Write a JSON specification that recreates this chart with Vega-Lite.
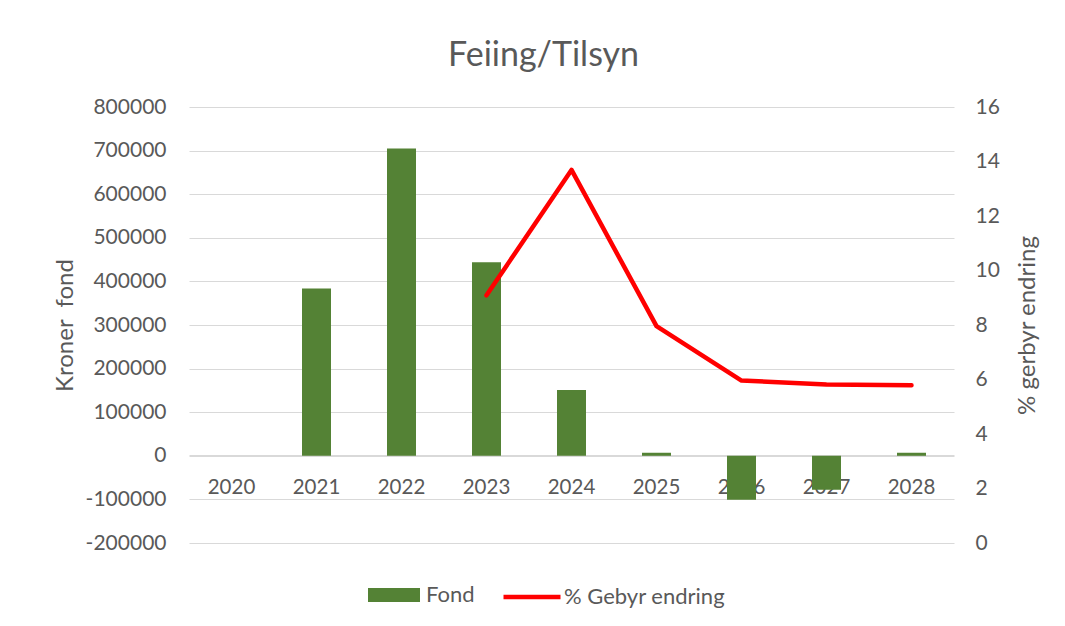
{
  "$schema": "https://vega.github.io/schema/vega-lite/v6.json",
  "autosize": {"type": "none"},
  "width": 765,
  "height": 436,
  "padding": {"left": 189, "top": 107, "right": 111, "bottom": 83},
  "background": "white",
  "title": {"text": "Feiing/Tilsyn", "font": "Lato", "fontSize": 34, "fontWeight": "normal", "color": "#595959", "offset": 23, "anchor": "middle", "dx": -28},
  "config": {
    "view": {"stroke": null},
    "font": "Lato",
    "axis": {"labelFont": "Lato", "titleFont": "Lato", "labelColor": "#595959", "titleColor": "#595959", "labelFontSize": 21, "titleFontSize": 24, "titleFontWeight": "normal"},
    "legend": {"labelFont": "Lato", "labelFontSize": 22, "labelColor": "#595959", "padding": 0, "labelLimit": 400}
  },
  "data": {"values": [
    {"year": "2020", "fond": 0, "pct": null},
    {"year": "2021", "fond": 384000, "pct": null},
    {"year": "2022", "fond": 705000, "pct": null},
    {"year": "2023", "fond": 444000, "pct": 9.09},
    {"year": "2024", "fond": 151000, "pct": 13.69},
    {"year": "2025", "fond": 7000, "pct": 7.96},
    {"year": "2026", "fond": -101000, "pct": 5.96},
    {"year": "2027", "fond": -78000, "pct": 5.82},
    {"year": "2028", "fond": 7000, "pct": 5.79}
  ]},
  "encoding": {
    "x": {"field": "year", "type": "ordinal", "scale": {"paddingInner": 0, "paddingOuter": 0},
      "axis": {"title": null, "labelAngle": 0, "offset": -88, "domain": true, "domainColor": "#d9d9d9", "domainWidth": 1, "ticks": false, "tickSize": 0, "labelPadding": 22, "labelFontSize": 20.5, "grid": false}}
  },
  "layer": [
    {
      "mark": {"type": "bar", "size": 29},
      "encoding": {
        "y": {"field": "fond", "type": "quantitative", "scale": {"domain": [-200000, 800000], "nice": false},
          "axis": {"title": "Kroner\u00a0 fond", "values": [-200000, -100000, 0, 100000, 200000, 300000, 400000, 500000, 600000, 700000, 800000], "labelExpr": "datum.value < 0 ? '-' + abs(datum.value) : '' + datum.value", "domain": false, "ticks": false, "labelPadding": 23, "grid": true, "gridColor": "#d9d9d9", "gridWidth": 1, "titlePadding": 8}},
        "fill": {"datum": "Fond", "type": "nominal", "scale": {"range": ["#548235"]},
          "legend": {"title": null, "orient": "none", "legendX": 179, "legendY": 462, "symbolType": "M-1,-0.27L1,-0.27L1,0.27L-1,0.27Z", "symbolSize": 2704, "symbolStrokeWidth": 0, "labelOffset": 6}}
      }
    },
    {
      "mark": {"type": "line", "color": "#ff0000", "strokeWidth": 4.5, "strokeJoin": "round", "strokeCap": "round"},
      "encoding": {
        "y": {"field": "pct", "type": "quantitative", "scale": {"domain": [0, 16], "nice": false},
          "axis": {"orient": "right", "title": "% gerbyr endring", "titleAngle": 270, "values": [0, 2, 4, 6, 8, 10, 12, 14, 16], "domain": false, "ticks": false, "grid": false, "labelPadding": 21, "titlePadding": 40}},
        "stroke": {"datum": "% Gebyr endring", "type": "nominal", "scale": {"range": ["#ff0000"]},
          "legend": {"title": null, "orient": "none", "legendX": 312, "legendY": 459, "symbolType": "stroke", "symbolSize": 3249, "symbolStrokeWidth": 4.5, "labelOffset": 1}}
      }
    }
  ],
  "resolve": {"scale": {"y": "independent"}}
}
